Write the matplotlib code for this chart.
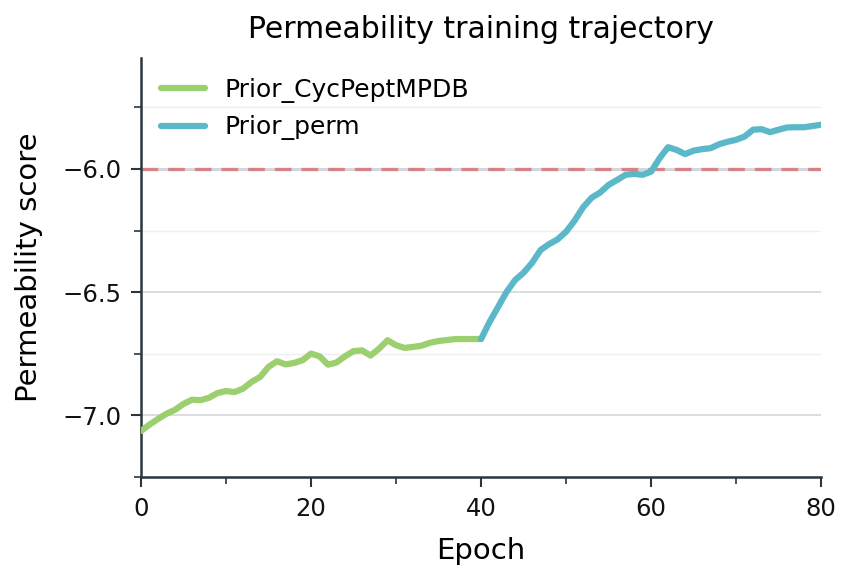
import matplotlib
matplotlib.use("Agg")
import matplotlib.pyplot as plt
from matplotlib.ticker import MultipleLocator
import numpy as np

epochs_cyc = list(range(0, 41))
score_cyc = [-7.063, -7.037, -7.014, -6.993, -6.977, -6.953, -6.936, -6.938, -6.928, -6.909,
             -6.901, -6.905, -6.891, -6.864, -6.844, -6.803, -6.780, -6.793, -6.787, -6.776,
             -6.749, -6.760, -6.794, -6.785, -6.760, -6.739, -6.736, -6.757, -6.729, -6.695,
             -6.715, -6.726, -6.722, -6.717, -6.705, -6.698, -6.694, -6.690, -6.690, -6.690,
             -6.690]
epochs_perm = list(range(40, 81))
score_perm = [-6.690, -6.621, -6.560, -6.499, -6.451, -6.421, -6.381, -6.329, -6.305, -6.286,
              -6.255, -6.210, -6.156, -6.117, -6.096, -6.065, -6.045, -6.024, -6.020, -6.024,
              -6.011, -5.957, -5.912, -5.923, -5.940, -5.926, -5.920, -5.916, -5.900, -5.890,
              -5.882, -5.869, -5.841, -5.839, -5.851, -5.841, -5.832, -5.831, -5.831, -5.826,
              -5.821]
threshold = -6.0
labels = ["Prior_CycPeptMPDB", "Prior_perm"]
title = "Permeability training trajectory"

fig = plt.figure(figsize=(8.43, 5.68), dpi=100)
ax = fig.add_axes([0.1673, 0.160, 0.8067, 0.738])

ax.set_xlim(0, 80)
ax.set_ylim(-7.25, -5.55)
ax.xaxis.set_major_locator(MultipleLocator(20))
ax.xaxis.set_minor_locator(MultipleLocator(10))
ax.yaxis.set_major_locator(MultipleLocator(0.5))
ax.yaxis.set_minor_locator(MultipleLocator(0.25))

ax.grid(True, axis='y', which='major', color='#d3d7dc', linewidth=1.2)
ax.grid(True, axis='y', which='minor', color='#eeeff1', linewidth=1.0)
ax.set_axisbelow(True)

ax.axhline(threshold, color='#d3d7dc', linewidth=2.2, zorder=1.5)
ax.axhline(threshold, color='#d9666b', linestyle=(0, (5, 3)), linewidth=2.4, alpha=0.75, zorder=2)

ax.plot(epochs_cyc, score_cyc, color='#9ccf6e', linewidth=4.5, label=labels[0],
        solid_capstyle='round', zorder=3)
ax.plot(epochs_perm, score_perm, color='#5bb8c9', linewidth=4.5, label=labels[1],
        solid_capstyle='round', zorder=3)

for s in ['top', 'right']:
    ax.spines[s].set_visible(False)
for s in ['left', 'bottom']:
    ax.spines[s].set_color('#2b3640')
    ax.spines[s].set_linewidth(1.8)

ax.tick_params(axis='both', which='major', length=7, width=1.5, color='#2b3640',
               labelsize=17.5, labelcolor='#111111', pad=7)
ax.tick_params(axis='both', which='minor', length=5, width=1.2, color='#2b3640')

ax.set_xlabel("Epoch", fontsize=21, labelpad=12)
ax.set_ylabel("Permeability score", fontsize=21, labelpad=14)
ax.set_title(title, fontsize=21.5, pad=14)

leg = ax.legend(loc='upper left', frameon=False, fontsize=18, handlelength=1.75,
                borderaxespad=0.4, labelspacing=0.5)

fig.savefig("out.png", dpi=100)
